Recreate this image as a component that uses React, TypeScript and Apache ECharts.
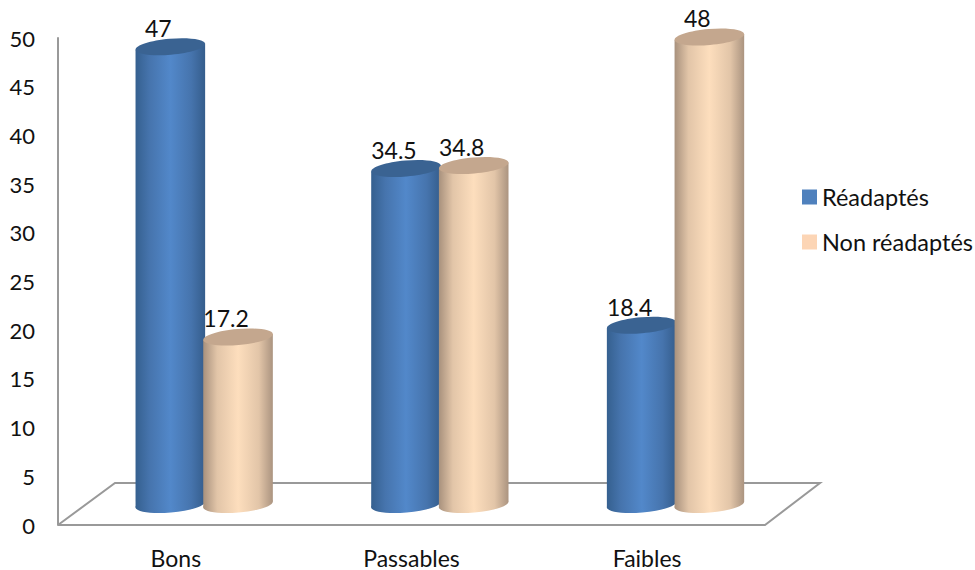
import React, { useEffect, useRef } from "react";
import * as echarts from "echarts";

const categories = ["Bons", "Passables", "Faibles"];
const readaptes = [47, 34.5, 18.4];
const nonReadaptes = [17.2, 34.8, 48];
const FONT = "Lato, 'Open Sans', sans-serif";

const HALF = 34.8;
const RY = 8;
const TILT = 3;
const DX = 28;
const DY = -20.5;
const FLOOR_DX = 57;
const FLOOR_DY = -42;

function cylinder(offset: number, stops: string[], top: string) {
  const positions = [0, 0.2, 0.5, 0.8, 1];
  const makeFill = () =>
    new echarts.graphic.LinearGradient(
      0,
      0,
      1,
      0,
      stops.map((color, k) => ({ offset: positions[k], color }))
    );
  return (params: any, api: any) => {
    const i = api.value(0);
    const v = api.value(1);
    const [cx0, y0] = api.coord([i, 0]);
    const [, yv] = api.coord([i, v]);
    const cx = cx0 + DX + offset;
    const base = y0 + DY;
    const head = yv + DY;
    const l = cx - HALF;
    const r = cx + HALF;
    const rx = Math.sqrt(HALF * HALF + TILT * TILT);
    const phi = Math.atan2(TILT, HALF);
    return {
      type: "group",
      children: [
        {
          type: "ellipse",
          x: cx,
          y: base,
          rotation: phi,
          shape: { cx: 0, cy: 0, rx, ry: RY },
          style: { fill: makeFill() },
        },
        {
          type: "polygon",
          shape: {
            points: [
              [l, head + TILT],
              [r, head - TILT],
              [r, base - TILT],
              [l, base + TILT],
            ],
          },
          style: { fill: makeFill() },
        },
        {
          type: "ellipse",
          x: cx,
          y: head,
          rotation: phi,
          shape: { cx: 0, cy: 0, rx, ry: RY },
          style: { fill: top },
        },
        {
          type: "text",
          style: {
            x: cx - 12,
            y: head - 18.5,
            text: String(v),
            font: `23px ${FONT}`,
            fill: "#111",
            align: "center",
            verticalAlign: "middle",
          },
        },
      ],
    };
  };
}

function floor(params: any) {
  const { x, y, width, height } = params.coordSys;
  const b = y + height;
  return {
    type: "polyline",
    silent: true,
    shape: {
      points: [
        [x, b],
        [x + FLOOR_DX, b + FLOOR_DY],
        [x + width + FLOOR_DX - 2, b + FLOOR_DY],
        [x + width, b],
        [x, b],
      ],
    },
    style: { stroke: "#999999", lineWidth: 2, fill: "none" },
  };
}

function toPairs(values: number[]) {
  return values.map((v, i) => [i, v]);
}

export default function App() {
  const ref = useRef<HTMLDivElement>(null);
  useEffect(() => {
    const chart = echarts.init(ref.current!, undefined, { renderer: "svg" });
    chart.setOption({
      animation: false,
      backgroundColor: "#ffffff",
      grid: { left: 58, top: 38, width: 707, height: 487, containLabel: false },
      xAxis: {
        type: "category",
        data: categories,
        axisLine: { show: false },
        axisTick: { show: false },
        axisLabel: { fontFamily: FONT, fontSize: 23, color: "#111", margin: 21 },
      },
      yAxis: {
        type: "value",
        min: 0,
        max: 50,
        interval: 5,
        splitLine: { show: false },
        axisTick: { show: false },
        axisLine: { show: true, lineStyle: { color: "#999999", width: 2 } },
        axisLabel: { fontFamily: FONT, fontSize: 22, color: "#111", margin: 23 },
      },
      legend: {
        orient: "vertical",
        left: 797,
        top: 180,
        itemWidth: 15,
        itemHeight: 15,
        itemGap: 21,
        icon: "rect",
        data: ["Réadaptés", "Non réadaptés"],
        textStyle: { fontFamily: FONT, fontSize: 23.5, color: "#111", padding: [0, 0, 10, 0] },
      },
      series: [
        {
          type: "custom",
          name: "floor",
          z: 1,
          silent: true,
          renderItem: floor,
          data: [[0, 0]],
        },
        {
          type: "custom",
          name: "Réadaptés",
          z: 2,
          itemStyle: { color: "#4f81bd" },
          renderItem: cylinder(-33.5, ["#35608f", "#4674ad", "#5288ca", "#4674ad", "#355d8c"], "#3a6392"),
          encode: { x: 0, y: 1 },
          data: toPairs(readaptes),
        },
        {
          type: "custom",
          name: "Non réadaptés",
          z: 3,
          itemStyle: { color: "#fcd5b5" },
          renderItem: cylinder(34.2, ["#a8917d", "#e2c5a8", "#fddebd", "#e2c5a8", "#ab9480"], "#c4a78e"),
          encode: { x: 0, y: 1 },
          data: toPairs(nonReadaptes),
        },
      ],
    });
    return () => chart.dispose();
  }, []);
  return (
    <div
      ref={ref}
      style={{ position: "absolute", left: 0, top: 0, width: 975, height: 570 }}
    />
  );
}
